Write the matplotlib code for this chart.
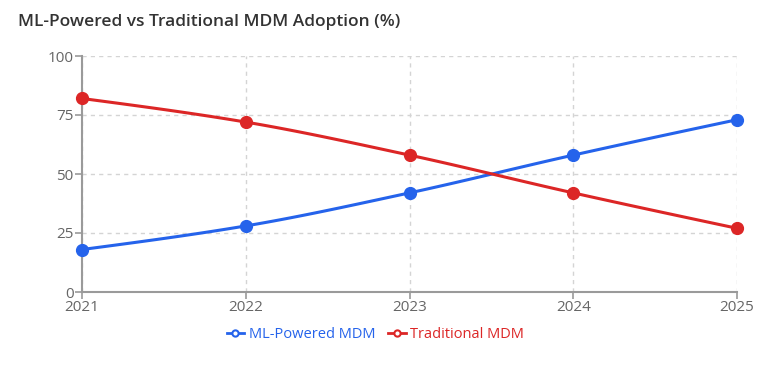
import numpy as np
import matplotlib
matplotlib.use("Agg")
import matplotlib.pyplot as plt
from matplotlib.lines import Line2D

years = [2021, 2022, 2023, 2024, 2025]
ml_powered = [18, 28, 42, 58, 73]
traditional = [82, 72, 58, 42, 27]
series_names = ["ML-Powered MDM", "Traditional MDM"]
colors = ["#2563eb", "#dc2626"]
title = "ML-Powered vs Traditional MDM Adoption (%)"
yticks = [0, 25, 50, 75, 100]

plt.rcParams['font.family'] = ['Open Sans', 'DejaVu Sans']


def monotone_path(x, y, n=30):
    x = np.asarray(x, float); y = np.asarray(y, float)
    h = np.diff(x); d = np.diff(y) / h
    m = np.zeros_like(y)
    for i in range(1, len(x) - 1):
        if d[i - 1] * d[i] <= 0:
            m[i] = 0
        else:
            w1 = 2 * h[i] + h[i - 1]; w2 = h[i] + 2 * h[i - 1]
            m[i] = (w1 + w2) / (w1 / d[i - 1] + w2 / d[i])
    m[0] = (3 * d[0] - m[1]) / 2
    m[-1] = (3 * d[-1] - m[-2]) / 2
    xs, ys = [], []
    for i in range(len(x) - 1):
        t = np.linspace(0, 1, n)
        h00 = 2 * t**3 - 3 * t**2 + 1; h10 = t**3 - 2 * t**2 + t
        h01 = -2 * t**3 + 3 * t**2; h11 = t**3 - t**2
        yy = h00 * y[i] + h10 * h[i] * m[i] + h01 * y[i + 1] + h11 * h[i] * m[i + 1]
        xs.extend(x[i] + t * h[i]); ys.extend(yy)
    return np.array(xs), np.array(ys)


fig = plt.figure(figsize=(7.66, 3.83), dpi=100)
ax = fig.add_axes([82 / 766, 1 - 292 / 383, (737 - 82) / 766, (292 - 56) / 383])

for vals, c in zip([ml_powered, traditional], colors):
    xs, ys = monotone_path(years, vals)
    ax.plot(xs, ys, color=c, lw=2.2, solid_capstyle='round', zorder=3)
    ax.plot(years, vals, 'o', color=c, ms=8.5, zorder=4, clip_on=False)

ax.set_xlim(years[0], years[-1])
ax.set_ylim(0, 100)
ax.set_xticks(years)
ax.set_xticklabels([str(y) for y in years])
ax.set_yticks(yticks)
ax.grid(True, color='#d4d4d4', linestyle=(0, (3, 3)), lw=1)
ax.set_axisbelow(True)
for s in ['top', 'right']:
    ax.spines[s].set_visible(False)
for s in ['left', 'bottom']:
    ax.spines[s].set_color('#9a9a9a')
    ax.spines[s].set_linewidth(1.5)
ax.tick_params(axis='both', colors='#9a9a9a', length=5, width=1.2,
               labelcolor='#666666', labelsize=11, pad=1)

fig.text(18 / 766, 1 - 22 / 383, title, fontsize=12.5, fontweight='semibold',
         color='#333333', va='center', ha='left')

handles = [Line2D([], [], color=c, lw=2, marker='o', ms=4.5,
                  markerfacecolor='white', markeredgewidth=1.5) for c in colors]
leg = fig.legend(handles, series_names, loc='center', bbox_to_anchor=(0.49, 1 - 335 / 383),
                 ncol=2, frameon=False, fontsize=10.5, handlelength=1.2,
                 handletextpad=0.3, columnspacing=0.9)
for t, c in zip(leg.get_texts(), colors):
    t.set_color(c)

fig.savefig("out.png", dpi=100)
